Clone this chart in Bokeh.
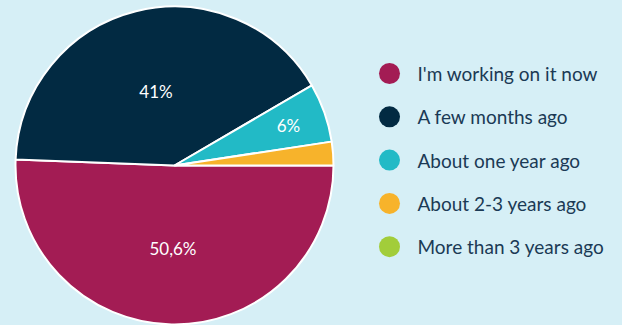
import numpy as np
from bokeh.plotting import figure
from bokeh.models import Range1d, ColumnDataSource
from bokeh.embed import file_html
from bokeh.resources import INLINE
from bokeh.core.properties import value

# ---- data ----
categories = ["I'm working on it now", "A few months ago", "About one year ago",
              "About 2-3 years ago", "More than 3 years ago"]
shares = [50.6, 41.0, 6.0, 2.4, 0.0]
pct_labels = ["50,6%", "41%", "6%", "", ""]
colors = ["#a31c54", "#022a42", "#22bac6", "#f7b32b", "#a2cd3a"]

# ---- layout / style ----
BG = "#d6eff6"
TEXT = "#1b3a55"
FONT = "Lato"
W, H = 622, 325
CX, CY, R = 174, 160, 159
label_r_frac = [0.52, 0.48, 0.76, 0.8, 0.8]
LEG_X, LEG_Y0, LEG_DY, LEG_TX = 389, 252, 43.3, 417

p = figure(width=W, height=H, x_range=Range1d(0, W), y_range=Range1d(0, H),
           output_backend="svg", toolbar_location=None, min_border=0,
           x_axis_location=None, y_axis_location=None,
           background_fill_color=BG, border_fill_color=BG, outline_line_color=None)
p.grid.visible = False

frac = np.array(shares) / sum(shares)
cum_end = np.cumsum(frac)
cum_start = cum_end - frac
keep = frac > 0

src = ColumnDataSource(dict(
    start=(-2 * np.pi * cum_start)[keep],
    end=(-2 * np.pi * cum_end)[keep],
    color=np.array(colors)[keep],
))
p.wedge(x=CX, y=CY, radius=R, start_angle="start", end_angle="end",
        direction="clock", fill_color="color", line_color="white",
        line_width=2, source=src)

mid = -np.pi * (cum_start + cum_end)
lx = CX + R * np.array(label_r_frac) * np.cos(mid)
ly = CY + R * np.array(label_r_frac) * np.sin(mid)
lab_src = ColumnDataSource(dict(x=lx, y=ly, t=pct_labels))
p.text(x="x", y="y", text="t", source=lab_src, text_color="white",
       text_font=value(FONT), text_font_size="17px",
       text_align="center", text_baseline="middle")

n = len(categories)
leg_y = LEG_Y0 - LEG_DY * np.arange(n)
leg_src = ColumnDataSource(dict(x=[LEG_X] * n, tx=[LEG_TX] * n, y=leg_y,
                                c=colors, t=categories))
p.scatter(x="x", y="y", size=21, fill_color="c", line_color=None, source=leg_src)
p.text(x="tx", y="y", text="t", source=leg_src, text_color=TEXT,
       text_font=value(FONT), text_font_size="19px",
       text_align="left", text_baseline="middle")

html = file_html(p, INLINE)
html = html.replace("</head>", "<style>body{background:%s;}</style></head>" % BG, 1)
open("out.html", "w").write(html)
